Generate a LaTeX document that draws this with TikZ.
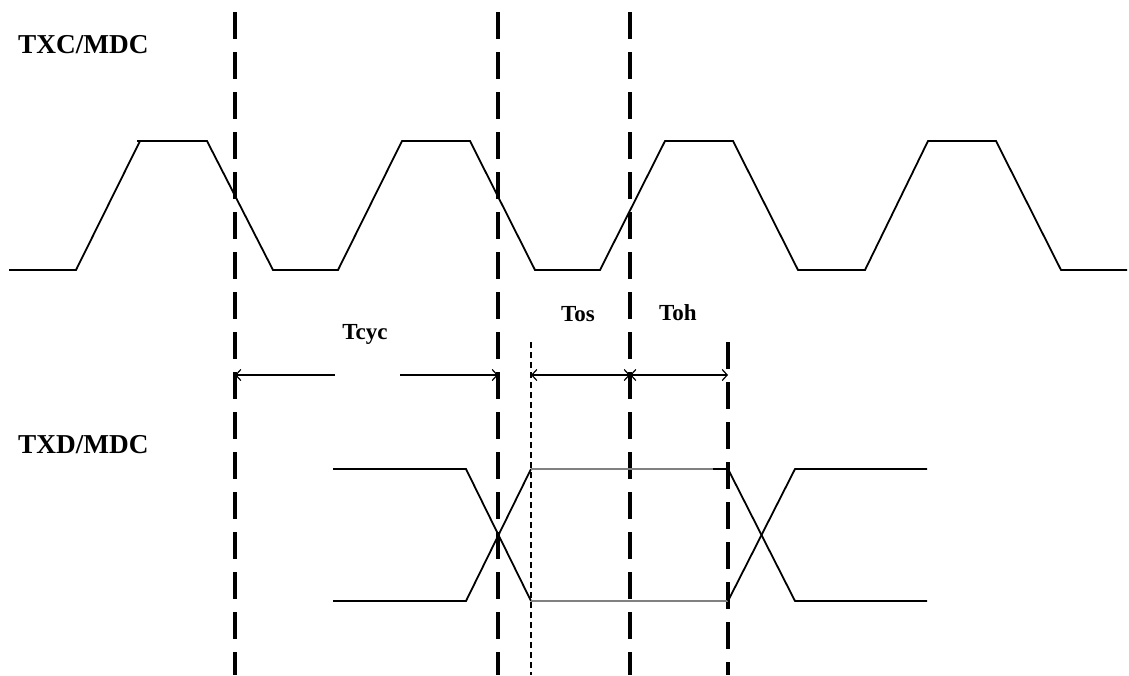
\documentclass[tikz,border=0pt]{standalone}
\usepackage{fontspec}
\setmainfont{Liberation Serif}
\usetikzlibrary{arrows.meta}
\begin{document}
\begin{tikzpicture}[x=1pt,y=-1pt,
  wave/.style={line width=1.8pt,black},
  gridline/.style={line width=3.2pt,dash pattern=on 27pt off 13pt},
  thindash/.style={line width=1.5pt,dash pattern=on 6pt off 4pt},
  dim/.style={line width=1.2pt,{Straight Barb[length=5pt,width=11pt]}-{Straight Barb[length=5pt,width=11pt]}},
  dimL/.style={line width=1.2pt,{Straight Barb[length=5pt,width=11pt]}-},
  dimR/.style={line width=1.2pt,-{Straight Barb[length=5pt,width=11pt]}},
  sig/.style={font=\bfseries\fontsize{27.3}{29}\selectfont,inner sep=0pt},
  lab/.style={font=\bfseries\fontsize{23}{25}\selectfont,inner sep=0pt}]
\useasboundingbox (0,0) rectangle (1129,675);
% labels
\node[sig,anchor=west] (txc) at (18,45) {TXC/MDC};
\node[sig,anchor=west] (txd) at (18,445) {TXD/MDC};
\node[lab] (tcyc) at (365,334) {Tcyc};
\node[lab] (tos) at (578,314) {Tos};
\node[lab] (toh) at (678,313) {Toh};
% vertical dashed lines
\draw[gridline] (235,12) -- (235,675);
\draw[gridline] (498,12) -- (498,675);
\draw[gridline] (630,12) -- (630,675);
\draw[gridline] (728,342) -- (728,675);
\draw[thindash] (531,342) -- (531,675);
% clock
\draw[wave,line join=miter] (9,270) -- (76,270) -- (140,141) -- (207,141) -- (273,270) -- (338,270) -- (402,141) -- (470,141)
  -- (535,270) -- (600,270) -- (665,141) -- (733,141) -- (798,270) -- (865,270) -- (928,141) -- (996,141)
  -- (1061,270) -- (1127,270);
\draw[wave] (137,141) -- (141,141);
% data
\draw[wave] (333,469) -- (466,469) -- (531,601);
\draw[wave] (333,601) -- (466,601) -- (531,469);
\draw[line width=1.5pt,gray] (531,469) -- (713,469);
\draw[line width=1.5pt,gray] (531,601) -- (728,601);
\draw[wave] (713,469) -- (728,469) -- (795,601) -- (927,601);
\draw[wave] (728,601) -- (795,469) -- (927,469);
% dimension arrows
\coordinate (a1) at (235,375);
\coordinate (a2) at (335,375);
\coordinate (a3) at (400,375);
\coordinate (a4) at (498,375);
\coordinate (b1) at (531,375);
\coordinate (b2) at (630,375);
\coordinate (b3) at (728,375);
\draw[dimL] (a1) -- (a2);
\draw[dimR] (a3) -- (a4);
\draw[dim] (b1) -- (b2);
\draw[dim] (b2) -- (b3);
\end{tikzpicture}
\end{document}
